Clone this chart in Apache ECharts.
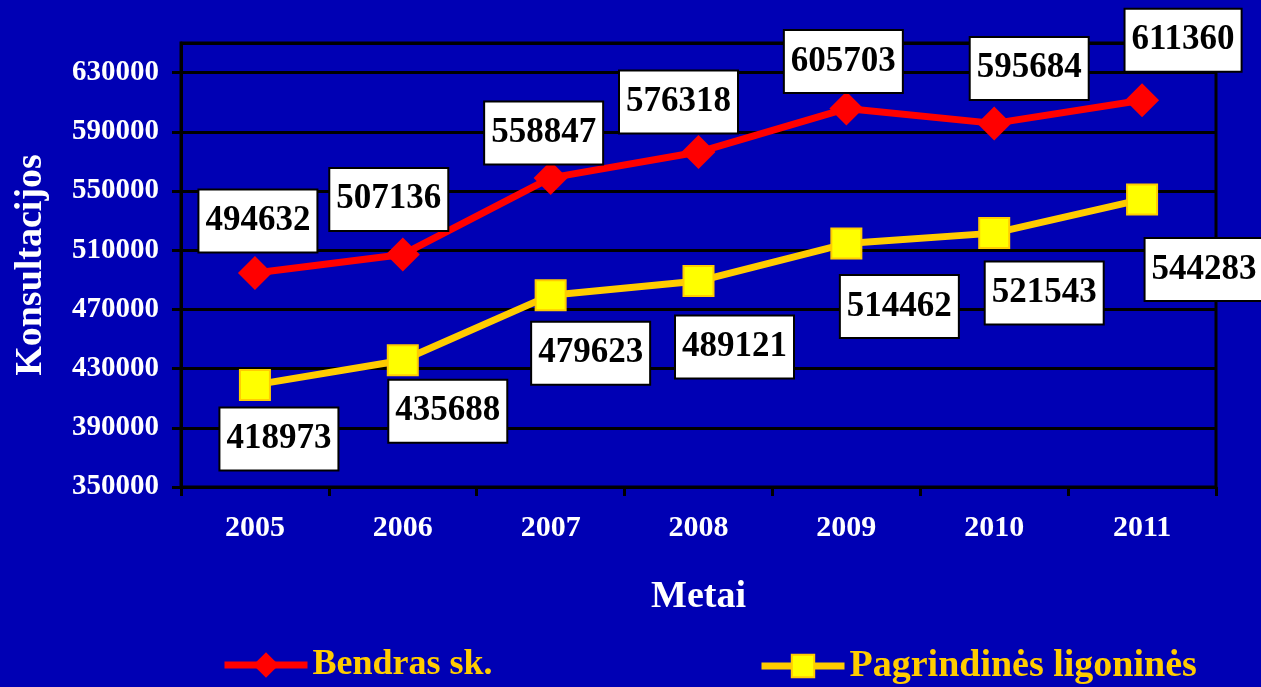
<!DOCTYPE html>
<html>
<head>
<meta charset="utf-8">
<script src="https://cdn.jsdelivr.net/npm/echarts@6/dist/echarts.min.js"></script>
<style>
  html, body { margin: 0; padding: 0; background: #0000b4; }
  #chart { width: 1261px; height: 687px; }
</style>
</head>
<body>
<div id="chart"></div>
<script>
// data
var years = ["2005", "2006", "2007", "2008", "2009", "2010", "2011"];
var bendras = [494632, 507136, 558847, 576318, 605703, 595684, 611360];
var ligonines = [418973, 435688, 479623, 489121, 514462, 521543, 544283];
var yMin = 350000;
var yMax = 650000;
var yStep = 40000;

// where each value box sits relative to its marker (px)
var redShift = [[3, -52], [-14, -55], [-7, -45], [-20, -50], [-3, -47], [35, -55], [41, -60]];
var yellowShift = [[24, 54], [45, 51], [40, 58], [36, 66], [53, 63], [50, 60], [62, 70]];

var serif = "'Liberation Serif', 'Times New Roman', serif";

function boxLabel(values, shifts) {
  return values.map(function (v, i) {
    return { value: v, label: { offset: shifts[i] } };
  });
}

var labelStyle = {
  show: true,
  position: "inside",
  color: "#000",
  fontFamily: serif,
  fontWeight: "bold",
  fontSize: 35,
  backgroundColor: "#fff",
  borderColor: "#000",
  borderWidth: 2,
  padding: [14, 6, 12, 6]
};

var legendText = { color: "#ffcc00", fontWeight: "bold", fontFamily: serif };

var myChart = echarts.init(document.getElementById("chart"));
myChart.setOption({
  backgroundColor: "#0000b4",
  animation: false,
  textStyle: { fontFamily: serif },
  grid: {
    left: 181,
    right: 45,
    top: 43,
    bottom: 200,
    outerBoundsMode: "none",
    show: true,
    borderColor: "#000",
    borderWidth: 3
  },
  legend: [
    {
      data: ["Bendras sk."],
      left: 221,
      top: 647,
      padding: 0,
      itemWidth: 83,
      itemHeight: 32,
      lineStyle: { width: 7 },
      textStyle: Object.assign({ fontSize: 36 }, legendText)
    },
    {
      data: ["Pagrindinės ligoninės"],
      left: 758,
      top: 647,
      padding: 0,
      itemWidth: 83,
      itemHeight: 28,
      lineStyle: { width: 7 },
      textStyle: Object.assign({ fontSize: 38 }, legendText)
    }
  ],
  xAxis: {
    type: "category",
    data: years,
    boundaryGap: true,
    name: "Metai",
    nameLocation: "middle",
    nameGap: 91,
    nameTextStyle: { color: "#fff", fontSize: 38, fontWeight: "bold", fontFamily: serif },
    axisLine: { lineStyle: { color: "#000", width: 3 } },
    axisTick: { show: true, length: 9, lineStyle: { color: "#000", width: 3 } },
    axisLabel: { color: "#fff", fontSize: 30, fontWeight: "bold", fontFamily: serif, margin: 26 }
  },
  yAxis: {
    type: "value",
    min: yMin,
    max: yMax,
    interval: yStep,
    name: "Konsultacijos",
    nameLocation: "middle",
    nameGap: 131,
    nameTextStyle: { color: "#fff", fontSize: 38, fontWeight: "bold", fontFamily: serif },
    axisLine: { show: true, lineStyle: { color: "#000", width: 3 } },
    axisTick: { show: true, length: 9, lineStyle: { color: "#000", width: 3 } },
    splitLine: { show: true, lineStyle: { color: "#000", width: 3 } },
    axisLabel: {
      color: "#fff",
      fontSize: 29,
      fontWeight: "bold",
      fontFamily: serif,
      margin: 22,
      showMaxLabel: false,
      formatter: function (v) { return String(v); }
    }
  },
  series: [
    {
      name: "Bendras sk.",
      type: "line",
      data: boxLabel(bendras, redShift),
      symbol: "diamond",
      symbolSize: 34,
      lineStyle: { color: "#ff0000", width: 7 },
      itemStyle: { color: "#ff0000" },
      label: labelStyle,
      z: 3
    },
    {
      name: "Pagrindinės ligoninės",
      type: "line",
      data: boxLabel(ligonines, yellowShift),
      symbol: "rect",
      symbolSize: 30,
      lineStyle: { color: "#ffcc00", width: 7 },
      itemStyle: { color: "#ffff00", borderColor: "#ffcc00", borderWidth: 2 },
      label: labelStyle,
      z: 3
    }
  ]
});
</script>
</body>
</html>
